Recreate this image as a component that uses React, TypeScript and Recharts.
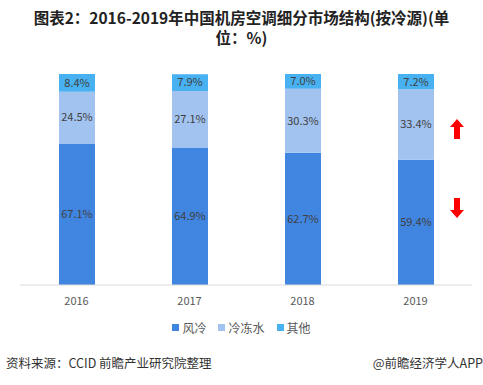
import { Bar, BarChart, LabelList, XAxis, YAxis } from "recharts";

const years = ["2016", "2017", "2018", "2019"];
const airCooled = [67.1, 64.9, 62.7, 59.4];
const chilledWater = [24.5, 27.1, 30.3, 33.4];
const others = [8.4, 7.9, 7.0, 7.2];

const seriesNames = ["风冷", "冷冻水", "其他"];
const colors = ["#4086e0", "#a2c3f0", "#48b1f1"];

const data = years.map((year, i) => ({
  year,
  airCooled: airCooled[i],
  chilledWater: chilledWater[i],
  others: others[i],
}));

const fmt = (v: unknown) => `${Number(v).toFixed(1)}%`;
const font = '"Noto Sans CJK SC", "Noto Sans", sans-serif';

function Arrow({ up, top }: { up: boolean; top: number }) {
  return (
    <svg
      width={14}
      height={20}
      style={{ position: "absolute", left: 450, top }}
      viewBox="0 0 14 20"
    >
      {up ? (
        <path d="M7 0 L14 8 L10 8 L10 20 L4 20 L4 8 L0 8 Z" fill="#ff0000" />
      ) : (
        <path d="M4 0 L10 0 L10 12 L14 12 L7 20 L0 12 L4 12 Z" fill="#ff0000" />
      )}
    </svg>
  );
}

export default function App() {
  return (
    <div
      style={{
        position: "absolute",
        left: 0,
        top: 0,
        width: 483,
        height: 385,
        background: "#fff",
        fontFamily: font,
        overflow: "hidden",
      }}
    >
      <div
        style={{
          position: "absolute",
          top: 6,
          width: 483,
          textAlign: "center",
          fontSize: 15.5,
          fontWeight: 700,
          lineHeight: "23px",
          color: "#222",
        }}
      >
        <div>图表2：2016-2019年中国机房空调细分市场结构(按冷源)(单</div>
        <div style={{ marginTop: -3 }}>位：%)</div>
      </div>

      <div style={{ position: "absolute", left: 0, top: 0 }}>
        <BarChart
          width={483}
          height={310}
          data={data}
          margin={{ top: 74, right: 11, bottom: 0, left: 20 }}
          barSize={36}
        >
          <YAxis hide domain={[0, 100]} />
          <XAxis
            dataKey="year"
            height={25}
            tickLine={false}
            axisLine={{ stroke: "#d9d9d9" }}
            tickMargin={6}
            tick={{ fill: "#595959", fontSize: 11, fontFamily: font }}
          />
          <Bar dataKey="airCooled" stackId="a" fill={colors[0]} isAnimationActive={false}>
            <LabelList dataKey="airCooled" position="center" formatter={fmt} fill="#404040" fontSize={11} />
          </Bar>
          <Bar dataKey="chilledWater" stackId="a" fill={colors[1]} isAnimationActive={false}>
            <LabelList dataKey="chilledWater" position="center" formatter={fmt} fill="#404040" fontSize={11} />
          </Bar>
          <Bar dataKey="others" stackId="a" fill={colors[2]} isAnimationActive={false}>
            <LabelList dataKey="others" position="center" formatter={fmt} fill="#404040" fontSize={11} />
          </Bar>
        </BarChart>
      </div>

      <Arrow up top={119} />
      <Arrow up={false} top={198} />

      <div
        style={{
          position: "absolute",
          top: 319,
          width: 483,
          display: "flex",
          justifyContent: "center",
          gap: 12,
          fontSize: 12,
          color: "#595959",
        }}
      >
        {seriesNames.map((name, i) => (
          <span key={name} style={{ display: "flex", alignItems: "center", gap: 3 }}>
            <span style={{ width: 7, height: 7, background: colors[i], display: "inline-block" }} />
            {name}
          </span>
        ))}
      </div>

      <div
        style={{
          position: "absolute",
          top: 353,
          left: 6,
          fontSize: 12.5,
          color: "#333",
        }}
      >
        资料来源：CCID 前瞻产业研究院整理
      </div>
      <div
        style={{
          position: "absolute",
          top: 353,
          right: 0,
          fontSize: 12.5,
          color: "#333",
        }}
      >
        @前瞻经济学人APP
      </div>
    </div>
  );
}
